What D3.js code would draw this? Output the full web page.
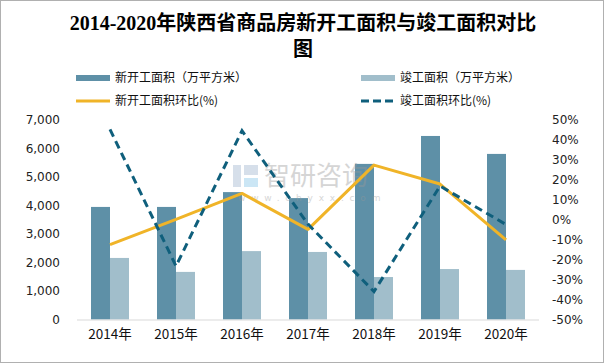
<!DOCTYPE html>
<html><head><meta charset="utf-8">
<script src="https://cdn.jsdelivr.net/npm/d3@7"></script>
<style>body{margin:0;background:#fff}svg{display:block}</style>
</head><body>
<svg id="c" width="606" height="364"></svg>
<script>
const years = ["2014年","2015年","2016年","2017年","2018年","2019年","2020年"];
const newStart = [3950, 3950, 4470, 4260, 5460, 6440, 5810];
const completed = [2160, 1670, 2400, 2370, 1490, 1770, 1740];
const newStartPct = [-12.5, 0.2, 13.2, -4.8, 27.4, 17.9, -10.1];
const completedPct = [45.3, -23.2, 44.6, -2.2, -36.0, 16.9, -2.4];
const leftTicks = [0,1000,2000,3000,4000,5000,6000,7000];
const rightTicks = [-50,-40,-30,-20,-10,0,10,20,30,40,50];
const seriesNames = ["新开工面积（万平方米）","竣工面积（万平方米）","新开工面积环比(%)","竣工面积环比(%)"];
const colors = {dark:"#5E90A7", light:"#A1BECB", orange:"#F0B428", dash:"#0F5F7C"};

const svg = d3.select("#c");
svg.append("rect").attr("x",0.5).attr("y",0.5).attr("width",603).attr("height",362)
  .attr("fill","#fff").attr("stroke","#B0B0B0");

// title
const title = svg.append("text").attr("text-anchor","middle")
  .attr("font-family","'Liberation Serif','Noto Sans CJK SC',serif").attr("font-weight","bold")
  .attr("font-size",20).attr("fill","#000");
title.append("tspan").attr("x",303).attr("y",30).text("2014-2020年陕西省商品房新开工面积与竣工面积对比");
title.append("tspan").attr("x",303).attr("y",56).text("图");

const x = d3.scaleBand().domain(years).range([77,539]).paddingInner(0).paddingOuter(0);
const y = d3.scaleLinear().domain([0,7000]).range([319.5,120]);
const yr = d3.scaleLinear().domain([-50,50]).range([319.5,120]);
const barW = 19;

// bars
svg.append("g").selectAll("rect").data(newStart).join("rect")
  .attr("x",(d,i)=>x(years[i])+x.bandwidth()/2-barW).attr("width",barW)
  .attr("y",d=>y(d)).attr("height",d=>y(0)-y(d)).attr("fill",colors.dark);
svg.append("g").selectAll("rect").data(completed).join("rect")
  .attr("x",(d,i)=>x(years[i])+x.bandwidth()/2).attr("width",barW)
  .attr("y",d=>y(d)).attr("height",d=>y(0)-y(d)).attr("fill",colors.light);

// watermark (drawn over bars, semi-transparent)
const wm = svg.append("g").attr("opacity",0.4);
wm.append("rect").attr("x",233).attr("y",165).attr("width",8).attr("height",22).attr("fill","#9AB0CC");
wm.append("rect").attr("x",244).attr("y",165).attr("width",14).attr("height",10).attr("fill","#9AB0CC");
wm.append("rect").attr("x",244).attr("y",178).attr("width",14).attr("height",9).attr("fill","#7EC3E8");
wm.append("text").attr("x",264).attr("y",185).attr("font-family","'Noto Sans CJK SC'").attr("font-size",26)
  .attr("fill","#999").text("智研咨询");
wm.append("text").attr("x",238).attr("y",201).attr("font-family","'DejaVu Sans'").attr("font-size",9)
  .attr("letter-spacing",5.8).attr("fill","#999").text("www.chyxx.com");

// x axis line
svg.append("line").attr("x1",77).attr("x2",539).attr("y1",320).attr("y2",320)
  .attr("stroke","#D9D9D9").attr("stroke-width",1);

// lines
const cx = i => x(years[i]) + x.bandwidth()/2;
const line = d3.line().x((d,i)=>cx(i)).y(d=>yr(d));
svg.append("path").datum(newStartPct).attr("d",line).attr("fill","none")
  .attr("stroke",colors.orange).attr("stroke-width",3).attr("stroke-linejoin","round");
svg.append("path").datum(completedPct).attr("d",line).attr("fill","none")
  .attr("stroke",colors.dash).attr("stroke-width",3).attr("stroke-dasharray","8,5");

// axes
const fmt = d3.format(",");
const la = d3.axisLeft(y).tickValues(leftTicks).tickFormat(fmt).tickSize(0).tickPadding(0);
const lg = svg.append("g").attr("transform","translate(60,0)").call(la);
lg.select(".domain").remove();
lg.selectAll("text").attr("font-family","'DejaVu Sans'").attr("font-size",12).attr("fill","#222");

const ra = d3.axisRight(yr).tickValues(rightTicks).tickFormat(d=>d+"%").tickSize(0).tickPadding(0);
const rg = svg.append("g").attr("transform","translate(552,0)").call(ra);
rg.select(".domain").remove();
rg.selectAll("text").attr("font-family","'DejaVu Sans'").attr("font-size",12).attr("fill","#222");

const ba = d3.axisBottom(x).tickSize(0).tickPadding(0);
const bg = svg.append("g").attr("transform","translate(0,334)").call(ba);
bg.select(".domain").remove();
bg.selectAll("text").attr("font-family","'Noto Sans CJK SC'").attr("font-size",13.5).attr("fill","#111")
  .attr("dy","0.35em");

// legend
const leg = svg.append("g").attr("font-family","'Noto Sans CJK SC'").attr("font-size",12).attr("fill","#111");
const items = [
  {x:76,y:78,type:"bar",c:colors.dark,t:seriesNames[0]},
  {x:361,y:78,type:"bar",c:colors.light,t:seriesNames[1]},
  {x:76,y:101,type:"line",c:colors.orange,t:seriesNames[2]},
  {x:361,y:101,type:"dash",c:colors.dash,t:seriesNames[3]}
];
items.forEach(it=>{
  if(it.type==="bar"){
    leg.append("rect").attr("x",it.x).attr("y",it.y-3).attr("width",34).attr("height",6).attr("fill",it.c);
  } else {
    leg.append("line").attr("x1",it.x).attr("x2",it.x+34).attr("y1",it.y).attr("y2",it.y)
      .attr("stroke",it.c).attr("stroke-width",3)
      .attr("stroke-dasharray",it.type==="dash"?"8,4":null);
  }
  leg.append("text").attr("x",it.x+39).attr("y",it.y).attr("dy","0.35em").text(it.t);
});
</script>
</body></html>
